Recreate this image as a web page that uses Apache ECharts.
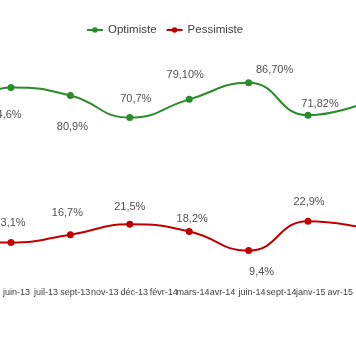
<!DOCTYPE html>
<html>
<head>
<meta charset="utf-8">
<script src="https://cdn.jsdelivr.net/npm/echarts@6/dist/echarts.min.js"></script>
<style>html,body{margin:0;padding:0;background:#fff;}#c{width:356px;height:364px;}</style>
</head>
<body>
<div id="c"></div>
<script>
// Axis labels shown under the chart
const axisLabels = ['juin-13','juil-13','sept-13','nov-13','déc-13','févr-14','mars-14','avr-14','juin-14','sept-14','janv-15','avr-15'];
// Survey values (first and last points lie just outside the cropped view)
const optimiste  = [68, 84.6, 80.9, 70.7, 79.1, 86.7, 71.82, 78];
const pessimiste = [13, 13.1, 16.7, 21.5, 18.2, 9.4, 22.9, 19.5];
const optimisteText  = [null, '84,6%', '80,9%', '70,7%', '79,10%', '86,70%', '71,82%', null];
const pessimisteText = [null, '13,1%', '16,7%', '21,5%', '18,2%', '9,4%', '22,9%', null];

// label placement (layout only)
const optOffsets = [[0,0],[-5,28],[2,32],[6,-19],[-4,-24],[26,-13],[12,-11],[0,0]];
const pesOffsets = [[0,0],[-1,-20],[-3,-22],[0,-17],[3,-13],[13,21],[1,-19],[0,0]];

function build(values, texts, offsets) {
  return values.map((v, i) => ({
    value: [i, v],
    label: texts[i] ? { show: true, offset: offsets[i], formatter: texts[i] } : { show: false }
  }));
}

const GREEN = '#2b8c2b', RED = '#c00000';
const labelStyle = {
  show: true, position: 'inside', align: 'center', verticalAlign: 'middle',
  color: '#505050', fontFamily: 'Liberation Sans, Arial, sans-serif', fontSize: 11
};

const chart = echarts.init(document.getElementById('c'), null, {renderer: 'canvas'});
chart.setOption({
  backgroundColor: '#ffffff',
  animation: false,
  legend: {
    data: ['Optimiste', 'Pessimiste'],
    left: 86, top: 24, padding: 0,
    itemWidth: 16, itemHeight: 7, itemGap: 9,
    textStyle: { color: '#404040', fontSize: 11.5, fontFamily: 'Liberation Sans, Arial, sans-serif' }
  },
  grid: [
    { left: 0, right: 0, top: 54, height: 217 },
    { left: 13, right: -1.3, top: 54, height: 229 }
  ],
  xAxis: [
    { type: 'value', gridIndex: 0, min: 0.8148, max: 6.808, show: false },
    { type: 'category', gridIndex: 1, data: axisLabels, boundaryGap: false,
      axisLine: { show: false }, axisTick: { show: false }, splitLine: { show: false },
      axisLabel: { interval: 0, margin: 5, fontSize: 9, color: '#404040',
                   fontFamily: 'Liberation Sans, Arial, sans-serif' } }
  ],
  yAxis: [
    { type: 'value', gridIndex: 0, min: 0, max: 100, show: false },
    { type: 'value', gridIndex: 1, min: 0, max: 100, show: false }
  ],
  series: [
    { name: 'Optimiste', type: 'line', xAxisIndex: 0, yAxisIndex: 0,
      data: build(optimiste, optimisteText, optOffsets),
      smooth: 0.5, symbol: 'circle', symbolSize: 7,
      lineStyle: { color: GREEN, width: 2 }, itemStyle: { color: GREEN },
      label: labelStyle },
    { name: 'Pessimiste', type: 'line', xAxisIndex: 0, yAxisIndex: 0,
      data: build(pessimiste, pessimisteText, pesOffsets),
      smooth: 0.5, symbol: 'circle', symbolSize: 7,
      lineStyle: { color: RED, width: 2 }, itemStyle: { color: RED },
      label: labelStyle },
    { name: 'axis', type: 'line', xAxisIndex: 1, yAxisIndex: 1, data: [], silent: true }
  ]
});
</script>
</body>
</html>
